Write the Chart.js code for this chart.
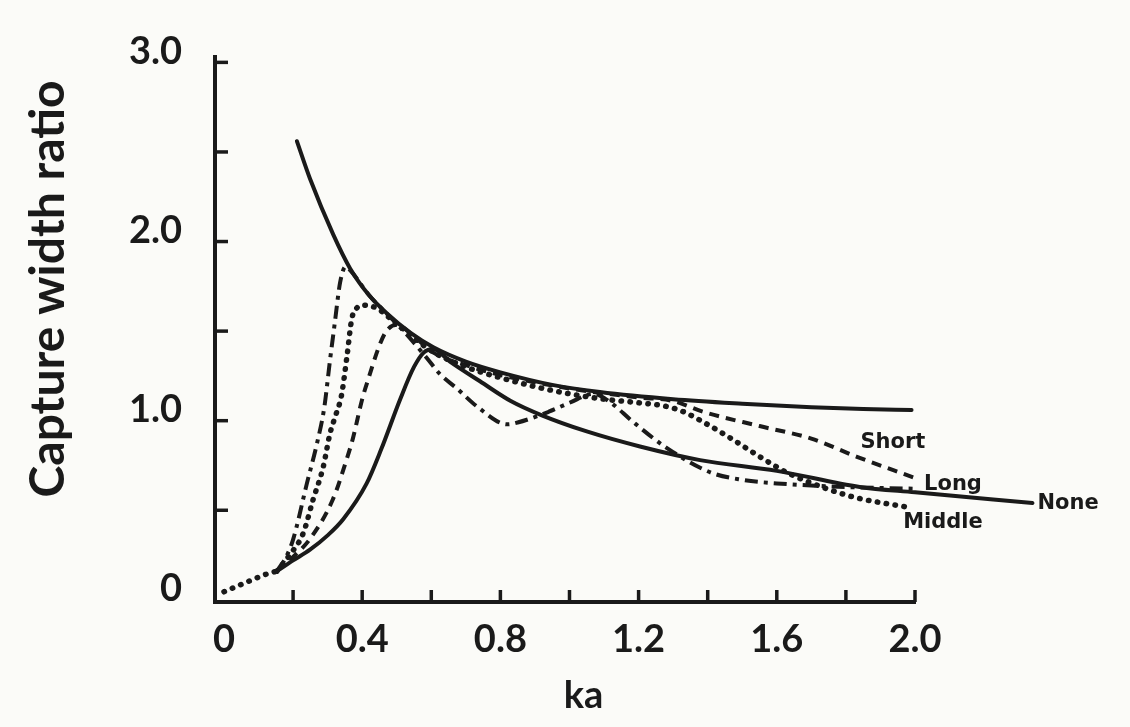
<!DOCTYPE html>
<html>
<head>
<meta charset="utf-8">
<script src="https://cdn.jsdelivr.net/npm/chart.js@4.4.1/dist/chart.umd.min.js"></script>
<style>
  html, body { margin: 0; padding: 0; background: #fbfbf8; }
  #wrap { width: 1130px; height: 727px; position: relative; }
</style>
</head>
<body>
<div id="wrap"><canvas id="c" width="1130" height="727"></canvas></div>
<script>
// ---------- data ----------
const xTickValues = [0, 0.2, 0.4, 0.6, 0.8, 1.0, 1.2, 1.4, 1.6, 1.8, 2.0];
const xTickLabels = ['0', '', '0.4', '', '0.8', '', '1.2', '', '1.6', '', '2.0'];
const yTickValues = [0, 0.5, 1.0, 1.5, 2.0, 2.5, 3.0];
const yTickLabels = ['0', '', '1.0', '', '2.0', '', '3.0'];
const xRange = [-0.026, 2.0];
const yRange = [-0.012, 3.03];

// theoretical maximum (upper solid envelope)
const envelopeKa = [0.211, 0.249, 0.316, 0.365, 0.42, 0.471, 0.54, 0.606, 0.70, 0.80, 0.95, 1.088, 1.30, 1.50, 1.70, 1.85, 1.99];
const envelopeCw = [2.56, 2.35, 2.04, 1.85, 1.70, 1.60, 1.49, 1.41, 1.33, 1.27, 1.20, 1.16, 1.12, 1.095, 1.075, 1.065, 1.06];

// low-frequency dotted part common to all curves
const originKa = [0.0, 0.067, 0.125, 0.153];
const originCw = [0.045, 0.10, 0.145, 0.16];

// None (solid)
const noneKa = [0.153, 0.20, 0.249, 0.30, 0.345, 0.413, 0.455, 0.51, 0.55, 0.578, 0.606, 0.654, 0.741, 0.83, 0.92, 1.05, 1.204, 1.378, 1.60, 1.84, 2.00, 2.34];
const noneCw = [0.16, 0.22, 0.28, 0.36, 0.45, 0.65, 0.84, 1.12, 1.30, 1.38, 1.40, 1.33, 1.22, 1.11, 1.03, 0.94, 0.856, 0.78, 0.72, 0.63, 0.60, 0.54];

// Long (dash-dot)
const longKa = [0.153, 0.18, 0.20, 0.24, 0.27, 0.29, 0.307, 0.321, 0.336, 0.352, 0.365, 0.42, 0.47, 0.52, 0.587, 0.625, 0.674, 0.732, 0.82, 0.85, 0.94, 1.00, 1.07, 1.12, 1.18, 1.28, 1.41, 1.50, 1.60, 1.80, 2.00];
const longCw = [0.16, 0.24, 0.336, 0.65, 0.88, 1.07, 1.34, 1.55, 1.77, 1.86, 1.84, 1.70, 1.60, 1.50, 1.35, 1.26, 1.18, 1.08, 0.98, 0.99, 1.05, 1.10, 1.15, 1.10, 1.00, 0.85, 0.71, 0.67, 0.65, 0.63, 0.62];

// Middle (dotted)
const middleKa = [0.153, 0.19, 0.229, 0.258, 0.287, 0.307, 0.325, 0.34, 0.356, 0.37, 0.385, 0.40, 0.44, 0.50, 0.60, 0.70, 0.80, 0.90, 1.00, 1.10, 1.20, 1.28, 1.33, 1.38, 1.46, 1.55, 1.63, 1.745, 1.83, 1.985];
const middleCw = [0.16, 0.25, 0.37, 0.56, 0.74, 0.93, 1.04, 1.14, 1.36, 1.57, 1.63, 1.645, 1.63, 1.54, 1.39, 1.30, 1.24, 1.19, 1.15, 1.12, 1.10, 1.08, 1.05, 1.00, 0.91, 0.80, 0.71, 0.62, 0.57, 0.515];

// Short (dashed)
const shortKa = [0.153, 0.20, 0.249, 0.315, 0.356, 0.373, 0.40, 0.414, 0.45, 0.47, 0.50, 0.55, 0.606, 0.70, 0.80, 1.00, 1.20, 1.30, 1.386, 1.55, 1.70, 1.83, 2.00];
const shortCw = [0.16, 0.24, 0.34, 0.56, 0.79, 0.90, 1.12, 1.21, 1.42, 1.50, 1.535, 1.47, 1.38, 1.31, 1.255, 1.18, 1.13, 1.11, 1.05, 0.97, 0.90, 0.80, 0.68];

// curve name labels (anchored in data units)
const curveNames = ['Short', 'Long', 'None', 'Middle'];
const curveNameKa = [1.936, 2.11, 2.443, 2.081];
const curveNameCw = [0.879, 0.644, 0.54, 0.431];

// ---------- styling ----------
const INK = '#1a1a1a';
const BG = '#fbfbf8';

function pts(xs, ys) { return xs.map((x, i) => ({ x: x, y: ys[i] })); }

function curve(label, xs, ys, dash, cap, width) {
  return {
    label: label,
    data: pts(xs, ys),
    showLine: true,
    borderColor: INK,
    backgroundColor: INK,
    borderWidth: width,
    borderDash: dash,
    borderCapStyle: cap,
    borderJoinStyle: 'round',
    pointRadius: 0,
    pointHoverRadius: 0,
    cubicInterpolationMode: 'monotone',
    clip: false,
    fill: false
  };
}

const bgPlugin = {
  id: 'bg',
  beforeDraw(chart) {
    const ctx = chart.ctx;
    ctx.save();
    ctx.fillStyle = BG;
    ctx.fillRect(0, 0, chart.width, chart.height);
    ctx.restore();
  }
};

// inward tick marks drawn through the chart's own scales
const inwardTicks = {
  id: 'inwardTicks',
  afterDraw(chart) {
    const { ctx, chartArea, scales } = chart;
    ctx.save();
    ctx.strokeStyle = INK;
    ctx.lineWidth = 3.5;
    ctx.lineCap = 'butt';
    xTickValues.forEach(v => {
      if (v === 0) return;
      const px = scales.x.getPixelForValue(v);
      ctx.beginPath();
      ctx.moveTo(px, chartArea.bottom);
      ctx.lineTo(px, chartArea.bottom - 12);
      ctx.stroke();
    });
    yTickValues.forEach(v => {
      if (v === 0) return;
      const py = scales.y.getPixelForValue(v);
      ctx.beginPath();
      ctx.moveTo(chartArea.left, py);
      ctx.lineTo(chartArea.left + 13, py);
      ctx.stroke();
    });
    ctx.restore();
  }
};

const nameLabels = {
  id: 'nameLabels',
  afterDatasetsDraw(chart) {
    const { ctx, scales } = chart;
    ctx.save();
    ctx.fillStyle = INK;
    ctx.font = 'bold 21px "DejaVu Sans"';
    ctx.textAlign = 'center';
    ctx.textBaseline = 'middle';
    curveNames.forEach((n, i) => {
      ctx.fillText(n, scales.x.getPixelForValue(curveNameKa[i]), scales.y.getPixelForValue(curveNameCw[i]));
    });
    ctx.restore();
  }
};

const tickFont = { family: 'Lato', weight: 'bold', size: 38, lineHeight: 1.2 };

new Chart(document.getElementById('c'), {
  type: 'scatter',
  data: {
    datasets: [
      curve('Theoretical maximum', envelopeKa, envelopeCw, [], 'round', 4),
      curve('Low frequency', originKa, originCw, [0.5, 8.5], 'round', 5.5),
      curve('None', noneKa, noneCw, [], 'round', 4),
      curve('Long', longKa, longCw, [13, 6, 4, 6], 'butt', 4),
      curve('Middle', middleKa, middleCw, [0.5, 8.5], 'round', 5.5),
      curve('Short', shortKa, shortCw, [10, 7], 'butt', 4)
    ]
  },
  options: {
    responsive: false,
    animation: false,
    events: [],
    layout: { padding: { left: 8, top: 57, right: 215, bottom: 0 } },
    plugins: { legend: { display: false }, tooltip: { enabled: false } },
    scales: {
      x: {
        type: 'linear',
        bounds: 'data',
        afterDataLimits: s => { s.min = xRange[0]; s.max = xRange[1]; },
        afterBuildTicks: s => { s.ticks = xTickValues.map(v => ({ value: v })); },
        afterFit: s => { s.height = 125; },
        grid: { display: false, drawTicks: false },
        border: { display: true, color: INK, width: 4 },
        ticks: {
          autoSkip: false, maxRotation: 0, minRotation: 0, padding: 15, color: INK,
          font: tickFont,
          callback: (v, i) => xTickLabels[i]
        },
        title: {
          display: true, text: '    ka', color: INK,
          font: { family: 'Lato', weight: 'bold', size: 38, lineHeight: 1.2 },
          padding: { top: 0, bottom: 8 }
        }
      },
      y: {
        type: 'linear',
        bounds: 'data',
        afterDataLimits: s => { s.min = yRange[0]; s.max = yRange[1]; },
        afterBuildTicks: s => { s.ticks = yTickValues.map(v => ({ value: v })); },
        afterFit: s => { s.width = 207; },
        grid: { display: false, drawTicks: false },
        border: { display: true, color: INK, width: 4 },
        ticks: {
          autoSkip: false, padding: 33, color: INK, labelOffset: -11,
          font: tickFont,
          callback: (v, i) => yTickLabels[i]
        },
        title: {
          display: true, text: 'Capture width ratio  ', align: 'end', color: INK,
          font: { family: 'Lato', weight: 'bold', size: 48, lineHeight: 1.2 },
          padding: { top: 12, bottom: 0 }
        }
      }
    }
  },
  plugins: [bgPlugin, inwardTicks, nameLabels]
});
</script>
</body>
</html>
